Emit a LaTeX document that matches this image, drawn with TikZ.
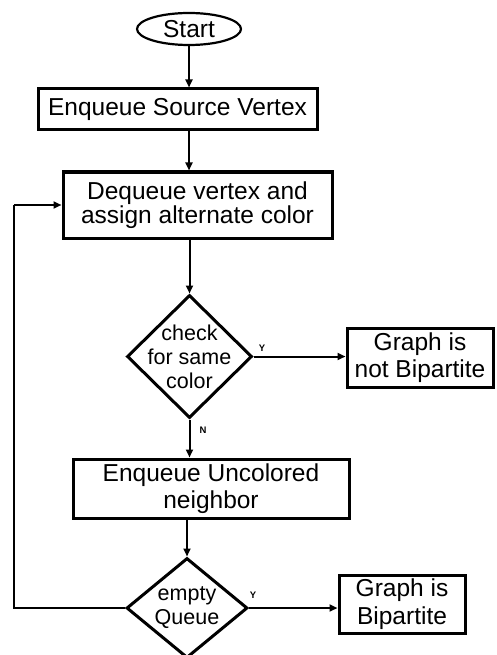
\documentclass[tikz,border=0pt]{standalone}
\usepackage{fontspec}
\setmainfont{Liberation Sans}
\usetikzlibrary{shapes.geometric,arrows.meta}
\begin{document}
\begin{tikzpicture}[x=1pt,y=-1pt,
  box/.style={draw,line width=3pt,rectangle,inner sep=0pt,align=center,font=\fontsize{24.5}{27.5}\selectfont},
  dia/.style={draw,line width=3pt,diamond,inner sep=0pt},
  dtext/.style={align=center,inner sep=0pt,font=\fontsize{21.5}{24}\selectfont},
  conn/.style={line width=2pt,-{Triangle[length=8pt,width=7pt]}},
  yn/.style={font=\bfseries\fontsize{9.5}{10}\selectfont,inner sep=0pt}]
\useasboundingbox (0,0) rectangle (496,655);
\node[draw,line width=2.2pt,ellipse,minimum width=104pt,minimum height=32pt,inner sep=0pt,font=\fontsize{24.5}{27}\selectfont] (start) at (189,29) {Start};
\node[box,minimum width=279pt,minimum height=41pt] (enq) at (177.5,109.5) {Enqueue Source Vertex};
\node[box,minimum width=269pt,minimum height=66pt,font=\fontsize{24.5}{24}\selectfont] (deq) at (197.5,205) {Dequeue vertex and\\assign alternate color};
\node[dia,minimum width=125pt,minimum height=123pt] (chk) at (189.5,356.5) {};
\node[dtext] (chkt) at (189.5,357) {check\\for same\\color};
\node[box,minimum width=146pt,minimum height=59pt] (nb) at (420,357.5) {Graph is\\not Bipartite};
\node[box,minimum width=276pt,minimum height=59pt] (unc) at (211,488.5) {Enqueue Uncolored\\neighbor};
\node[dia,minimum width=121pt,minimum height=100pt] (emp) at (187,608) {};
\node[dtext] (empt) at (187,608) {empty\\Queue};
\node[box,minimum width=126pt,minimum height=58pt] (bip) at (402,604) {Graph is\\Bipartite};
\coordinate (lp) at (14,0);
\draw[conn] (start.south) -- (start.south |- enq.north);
\draw[conn] (start.south |- enq.south) -- (start.south |- deq.north);
\draw[conn] (chk.north |- deq.south) -- (chk.north);
\draw[conn] (chk.south) -- (chk.south |- unc.north);
\draw[conn] (emp.north |- unc.south) -- (emp.north);
\draw[conn] (chk.east) -- (chk.east -| nb.west);
\draw[conn] (emp.east) -- (emp.east -| bip.west);
\draw[line width=2.8pt] (emp.west) -- (emp.west -| lp) -- (lp |- deq.west);
\draw[conn] (lp |- deq.west) -- (deq.west);
\node[yn] (y1) at (262,348) {Y};
\node[yn] (y2) at (253,595) {Y};
\node[yn] (n1) at (203,430) {N};
\end{tikzpicture}
\end{document}
